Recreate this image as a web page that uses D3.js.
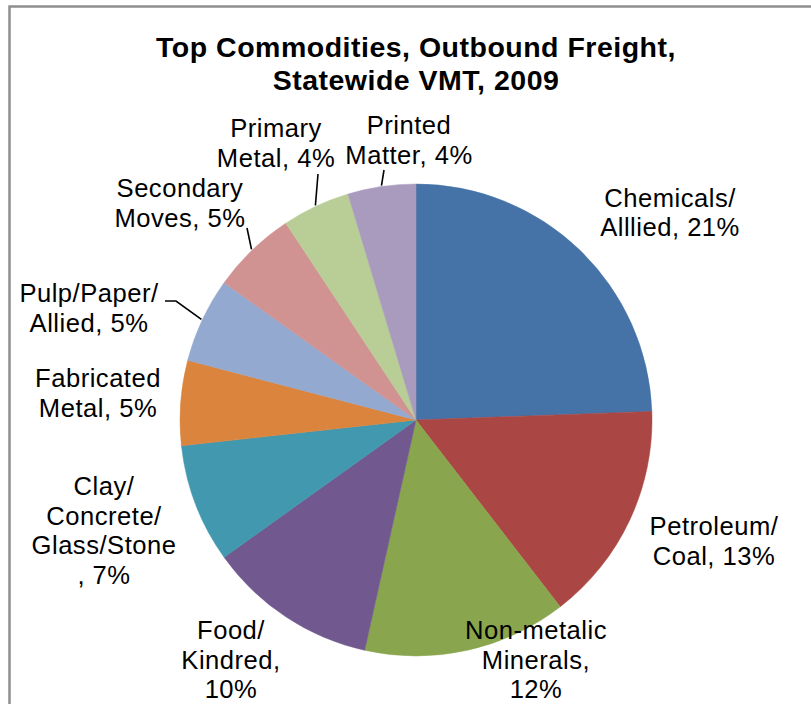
<!DOCTYPE html>
<html>
<head>
<meta charset="utf-8">
<script src="https://cdn.jsdelivr.net/npm/d3@7"></script>
<style>
  html, body { margin: 0; padding: 0; background: #fff; }
  svg { display: block; }
  text { font-family: "Liberation Sans", Arial, sans-serif; fill: #000; }
</style>
</head>
<body>
<svg id="chart" width="811" height="704"></svg>
<script>
// Commodity shares of outbound freight VMT (percent), clockwise from 12 o'clock
const commodities = [
  "Chemicals/ Alllied",
  "Petroleum/ Coal",
  "Non-metalic Minerals",
  "Food/ Kindred",
  "Clay/ Concrete/ Glass/Stone",
  "Fabricated Metal",
  "Pulp/Paper/ Allied",
  "Secondary Moves",
  "Primary Metal",
  "Printed Matter"
];
const shares = [21, 13, 12, 10, 7, 5, 5, 5, 4, 4];

// Data label lines as they wrap on the chart
const labelLines = [
  ["Chemicals/", "Alllied, 21%"],
  ["Petroleum/", "Coal, 13%"],
  ["Non-metalic", "Minerals,", "12%"],
  ["Food/", "Kindred,", "10%"],
  ["Clay/", "Concrete/", "Glass/Stone", ", 7%"],
  ["Fabricated", "Metal, 5%"],
  ["Pulp/Paper/", "Allied, 5%"],
  ["Secondary", "Moves, 5%"],
  ["Primary", "Metal, 4%"],
  ["Printed", "Matter, 4%"]
];

const titleLines = ["Top Commodities, Outbound Freight,", "Statewide VMT, 2009"];

// ---- layout ----
const colors = ["#4572A7", "#AA4643", "#89A54E", "#71588F", "#4198AF",
                "#DB843D", "#93A9CF", "#D19392", "#B9CD96", "#A99BBD"];
const cx = 416, cy = 420, radius = 236;
const fontSize = 25.6, lineGap = 29.5;

// label block centres (x, baseline of first line) and optional leader end
const labelLayout = [
  { x: 670, y: 206.5 },
  { x: 714, y: 535 },
  { x: 536, y: 639 },
  { x: 231, y: 639 },
  { x: 104, y: 495 },
  { x: 98,  y: 387 },
  { x: 89,  y: 302, leader: [[176, 301], [165, 301]] },
  { x: 180, y: 197, leader: [[247, 228]] },
  { x: 276, y: 137, leader: [[318, 174]] },
  { x: 409, y: 134, leader: [[384, 170]] }
];

const svg = d3.select("#chart");

// outer frame
svg.append("rect")
  .attr("x", 9.5).attr("y", 6.5)
  .attr("width", 900).attr("height", 900)
  .attr("fill", "none")
  .attr("stroke", "#8f8f8f")
  .attr("stroke-width", 2.5);

// title
svg.append("text")
  .attr("x", 416).attr("y", 57)
  .attr("text-anchor", "middle")
  .style("font-size", "28.5px")
  .style("font-weight", "bold")
  .style("letter-spacing", "0.5px")
  .selectAll("tspan")
  .data(titleLines)
  .join("tspan")
  .attr("x", 416)
  .attr("dy", (d, i) => i === 0 ? 0 : 33)
  .text(d => d);

const pie = d3.pie().sort(null).value(d => d).startAngle(0).endAngle(2 * Math.PI);
const arcs = pie(shares);
const arc = d3.arc().innerRadius(0).outerRadius(radius);

const g = svg.append("g").attr("transform", `translate(${cx},${cy})`);

g.selectAll("path.slice")
  .data(arcs)
  .join("path")
  .attr("class", "slice")
  .attr("d", arc)
  .attr("fill", (d, i) => colors[i])
  .attr("stroke", (d, i) => colors[i])
  .attr("stroke-width", 0.5);

// leader lines from the rim at each slice's mid-angle
arcs.forEach((a, i) => {
  const lay = labelLayout[i];
  if (!lay.leader) return;
  const mid = (a.startAngle + a.endAngle) / 2;
  const start = [cx + (radius + 1) * Math.sin(mid), cy - (radius + 1) * Math.cos(mid)];
  const pts = [start].concat(lay.leader);
  svg.append("path")
    .attr("d", d3.line()(pts))
    .attr("fill", "none")
    .attr("stroke", "#000")
    .attr("stroke-width", 1.6);
});

// data labels
labelLines.forEach((lines, i) => {
  const lay = labelLayout[i];
  svg.append("text")
    .attr("text-anchor", "middle")
    .style("font-size", fontSize + "px")
    .style("letter-spacing", "0.5px")
    .selectAll("tspan")
    .data(lines)
    .join("tspan")
    .attr("x", lay.x)
    .attr("y", (d, j) => lay.y + j * lineGap)
    .text(d => d);
});
</script>
</body>
</html>
